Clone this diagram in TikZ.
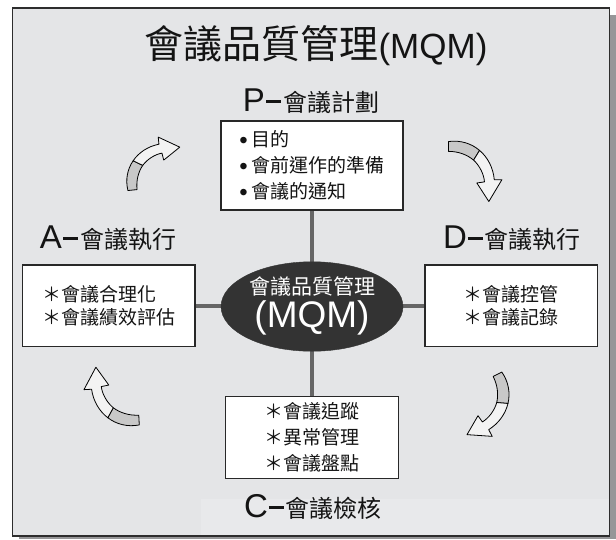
\documentclass[tikz,border=0pt]{standalone}
\usepackage{fontspec}
\setmainfont{Liberation Sans}
\newfontfamily\cjk{Noto Sans CJK TC}
\usetikzlibrary{shapes.geometric}
\pgfdeclarelayer{back}
\pgfdeclarelayer{mid}
\pgfsetlayers{back,mid,main}
\definecolor{bgc}{RGB}{228,229,231}
\definecolor{shadowc}{RGB}{150,150,152}
\definecolor{framec}{RGB}{45,45,45}
\definecolor{connc}{RGB}{102,102,102}
\definecolor{hubc}{RGB}{51,51,51}
\definecolor{boxline}{RGB}{40,40,40}
\definecolor{arrowdark}{RGB}{200,200,200}
\definecolor{arrowlight}{RGB}{243,243,243}
\definecolor{txtc}{RGB}{20,20,20}
\newcommand\mybul{{\rmfamily\fontsize{24}{26}\selectfont\raisebox{-1.5pt}{•}}\hspace{4pt}}
\newcommand\mydash{\hspace{1pt}\raisebox{8pt}{\rule{15pt}{3.6pt}}\hspace{2pt}}
\tikzset{
  txtbox/.style={draw=boxline, line width=1.2pt, fill=white, inner sep=0pt, align=left, text=txtc},
  lab/.style={inner sep=0pt, text=txtc},
  hub/.style={ellipse, fill=hubc, draw=hubc, inner sep=0pt, minimum width=182pt, minimum height=89.5pt},
  hubtxt/.style={inner sep=0pt, text=white},
  conn/.style={draw=connc, line width=3.5pt},
  curlarrow/.pic={
    \filldraw[fill=arrowdark, draw=black, line width=0.8pt, line join=round]
      (-5,0) .. controls (-6.5,-11) and (-3.25,-21) .. (3.125,-28.5)
      -- (12,-23) .. controls (7,-17) and (4,-9) .. (4,0) -- cycle;
    \filldraw[fill=arrowlight, draw=black, line width=0.8pt, line join=round]
      (3.125,-28.5) .. controls (9.5,-36) and (19,-41) .. (30,-42)
      -- (30,-49) -- (50,-37) -- (33,-26) -- (32,-33)
      .. controls (25,-32.5) and (17,-28.5) .. (12,-23) -- cycle;
  }
}
\begin{document}
\begin{tikzpicture}[x=1pt,y=-1pt]
\useasboundingbox (0,0) rectangle (616,539);
\begin{pgfonlayer}{back}
  \fill[shadowc] (19,15) rectangle (616,539);
  \draw[draw=framec, line width=1.4pt, fill=bgc] (12.7,8) rectangle (609.3,535.8);
  \fill[white, opacity=0.18] (201,499) rectangle (608.5,535.1);
\end{pgfonlayer}

\node[lab] (title) at (316,46)
  {{\cjk\fontsize{39}{39}\selectfont 會議品質管理}{\fontsize{35}{35}\selectfont (MQM)}};

\node[lab] (plab) at (311,101)
  {{\fontsize{33}{33}\selectfont P}\mydash{\cjk\fontsize{24}{24}\selectfont 會議計劃}};
\node[lab] (alab) at (108,238)
  {{\fontsize{33}{33}\selectfont A}\mydash{\cjk\fontsize{24}{24}\selectfont 會議執行}};
\node[lab] (dlab) at (512,238)
  {{\fontsize{33}{33}\selectfont D}\mydash{\cjk\fontsize{24}{24}\selectfont 會議執行}};
\node[lab] (clab) at (313,507)
  {{\fontsize{33}{33}\selectfont C}\mydash{\cjk\fontsize{24}{24}\selectfont 會議檢核}};

\node[txtbox, minimum width=182pt, minimum height=89pt, font=\cjk\fontsize{19}{26}\selectfont] (pbox) at (312,165.5)
  {\mybul 目的\\ \mybul 會前運作的準備\\ \mybul 會議的通知};
\node[txtbox, minimum width=172.3pt, minimum height=81.7pt, font=\cjk\fontsize{19}{23}\selectfont] (abox) at (108.9,305.9)
  {＊會議合理化\\ ＊會議績效評估};
\node[txtbox, minimum width=172.3pt, minimum height=81.7pt, font=\cjk\fontsize{19}{23}\selectfont] (dbox) at (511.2,305.9)
  {＊會議控管\\ ＊會議記錄};
\node[txtbox, minimum width=172.6pt, minimum height=82pt, font=\cjk\fontsize{19}{26}\selectfont] (cbox) at (312,437.7)
  {＊會議追蹤\\ ＊異常管理\\ ＊會議盤點};

\node[hub] (hub) at (312,306.5) {};
\node[hubtxt, font=\cjk\fontsize{21}{21}\selectfont] (hubt1) at (312,287) {會議品質管理};
\node[hubtxt, font=\fontsize{37}{37}\selectfont] (hubt2) at (312,318) {(MQM)};

\begin{pgfonlayer}{mid}
  \draw[conn] (pbox.south) -- (cbox.north);
  \draw[conn] (abox.east) -- (dbox.west);
\end{pgfonlayer}

\pic[rotate=6, scale=1.02] at (133,190) {curlarrow};
\pic[rotate=-90, scale=1.09] at (448.5,147) {curlarrow};
\pic[rotate=-153, scale=1.08] at (497,374.5) {curlarrow};
\pic[rotate=93, scale=1.09] at (139,419.5) {curlarrow};
\end{tikzpicture}
\end{document}
